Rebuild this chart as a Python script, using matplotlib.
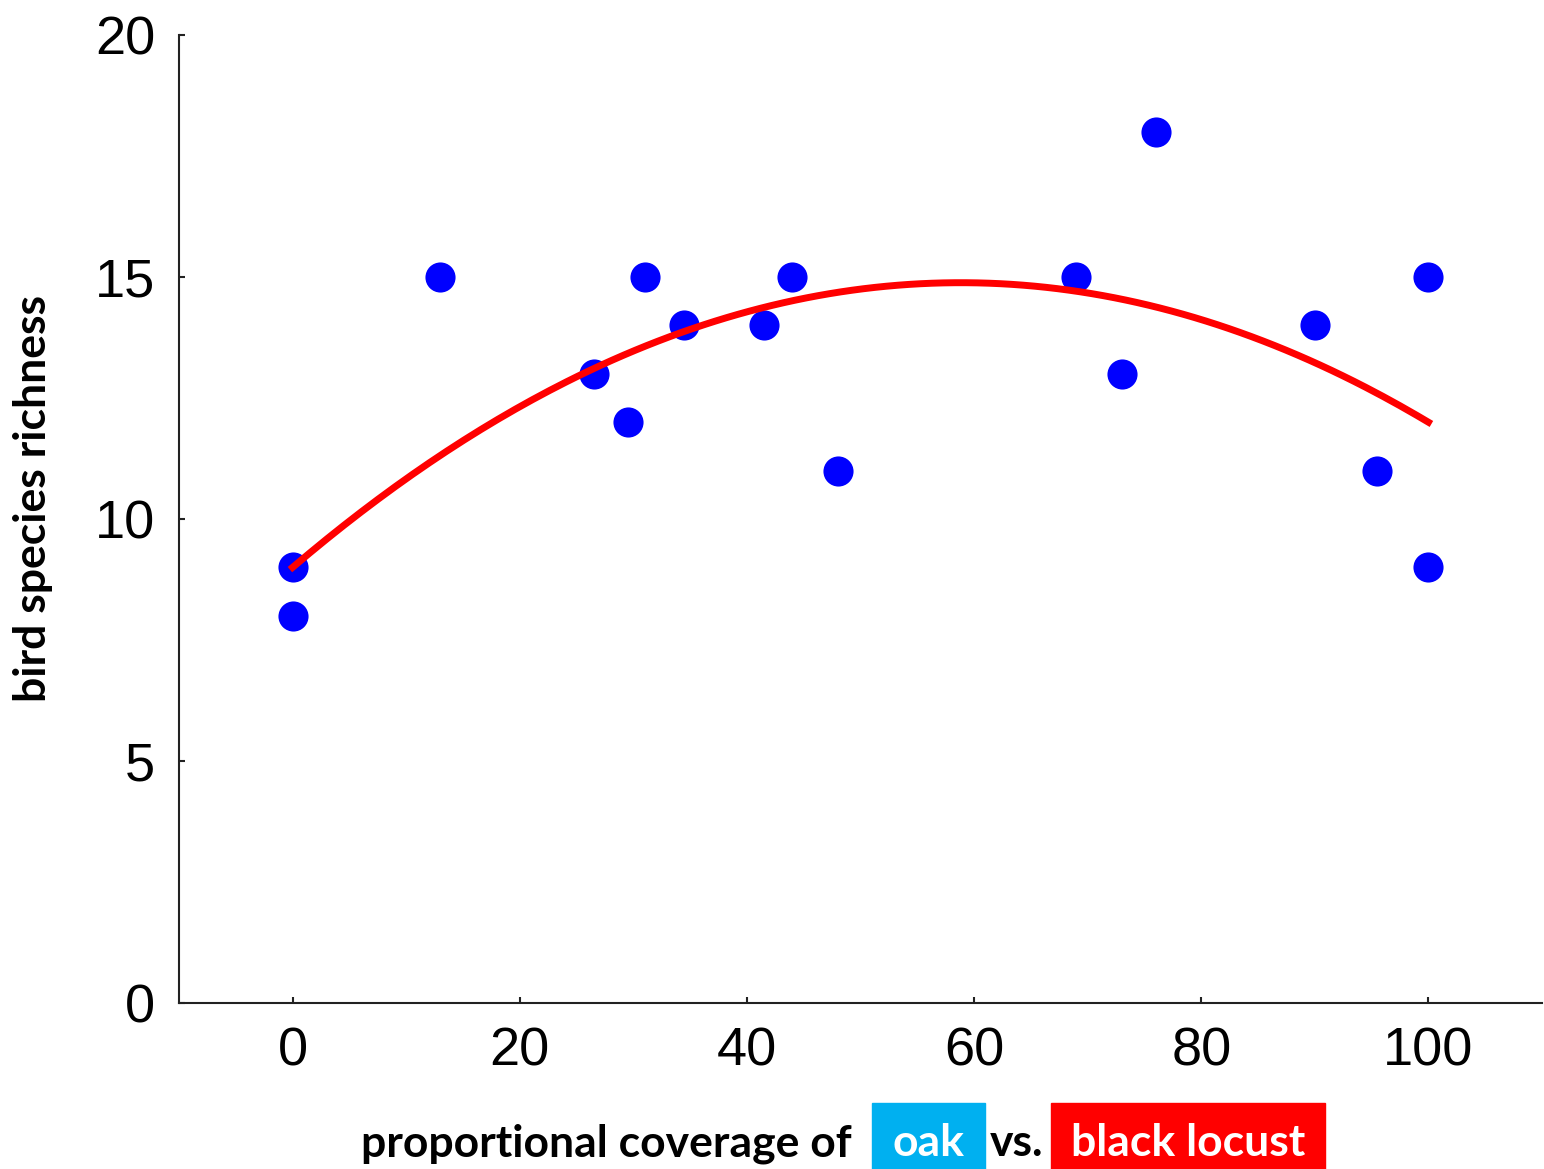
import matplotlib.pyplot as plt
import matplotlib.patches as patch
import numpy as np

# proportional coverage of oak vs. black locust (%)
coverage = [0, 0, 13, 26.5, 29.5, 31, 34.5, 41.5, 44, 48, 69, 73, 76, 90, 95.5, 100, 100]
richness = [9, 8, 15, 13, 12, 15, 14, 14, 15, 11, 15, 13, 18, 14, 11, 15, 9]
# quadratic fit shown in the figure (a*x^2 + b*x + c)
fit_coef = [-0.0017, 0.2, 9.0]

W, H = 1544, 1169


def fx(px):
    return px / W


def fy(py):
    return 1 - py / H


def main():
    fig = plt.figure(figsize=(W / 100, H / 100), dpi=100)
    ax = fig.add_axes([fx(179), fy(1003), fx(1542) - fx(179), fy(35) - fy(1003)])

    ax.scatter(coverage, richness, s=28 ** 2 * 0.6, color="#0000ff", zorder=2, linewidths=0)

    xs = np.linspace(0, 100, 200)
    ax.plot(xs, np.polyval(fit_coef, xs), color="#ff0000", lw=5, zorder=3)

    ax.set(xlim=(-10, 110), ylim=(0, 20))
    ax.set_xticks([0, 20, 40, 60, 80, 100])
    ax.set_yticks([0, 5, 10, 15, 20])
    for s in ("top", "right"):
        ax.spines[s].set_visible(False)
    for s in ("left", "bottom"):
        ax.spines[s].set_linewidth(1.5)
        ax.spines[s].set_color("#222222")
    ax.tick_params(direction="in", length=4, width=1.5, color="#222222",
                   labelsize=39, pad=17)
    for lab in ax.get_xticklabels() + ax.get_yticklabels():
        lab.set_fontfamily("Liberation Sans")

    # y label
    fig.text(fx(33), fy(498), "bird species richness", rotation=90, ha="center", va="center",
             fontsize=32, fontweight="bold", family="Lato")

    # x label with coloured boxes
    fig.patches.append(patch.Rectangle((fx(872), fy(1169)), fx(985) - fx(872), fy(1103) - fy(1169),
                                       transform=fig.transFigure, color="#00b0f0", zorder=0))
    fig.patches.append(patch.Rectangle((fx(1051), fy(1169)), fx(1325) - fx(1051), fy(1103) - fy(1169),
                                       transform=fig.transFigure, color="#ff0000", zorder=0))
    kw = dict(fontsize=32, fontweight="bold", family="Lato", va="baseline")
    base = fy(1156)
    fig.text(fx(361), base, "proportional coverage of", ha="left", **kw)
    fig.text(fx(928), base, "oak", ha="center", color="white", **kw)
    fig.text(fx(1017), base, "vs.", ha="center", **kw)
    fig.text(fx(1188), base, "black locust", ha="center", color="white", **kw)

    fig.savefig("out.png", dpi=100)


if __name__ == '__main__':
    main()
